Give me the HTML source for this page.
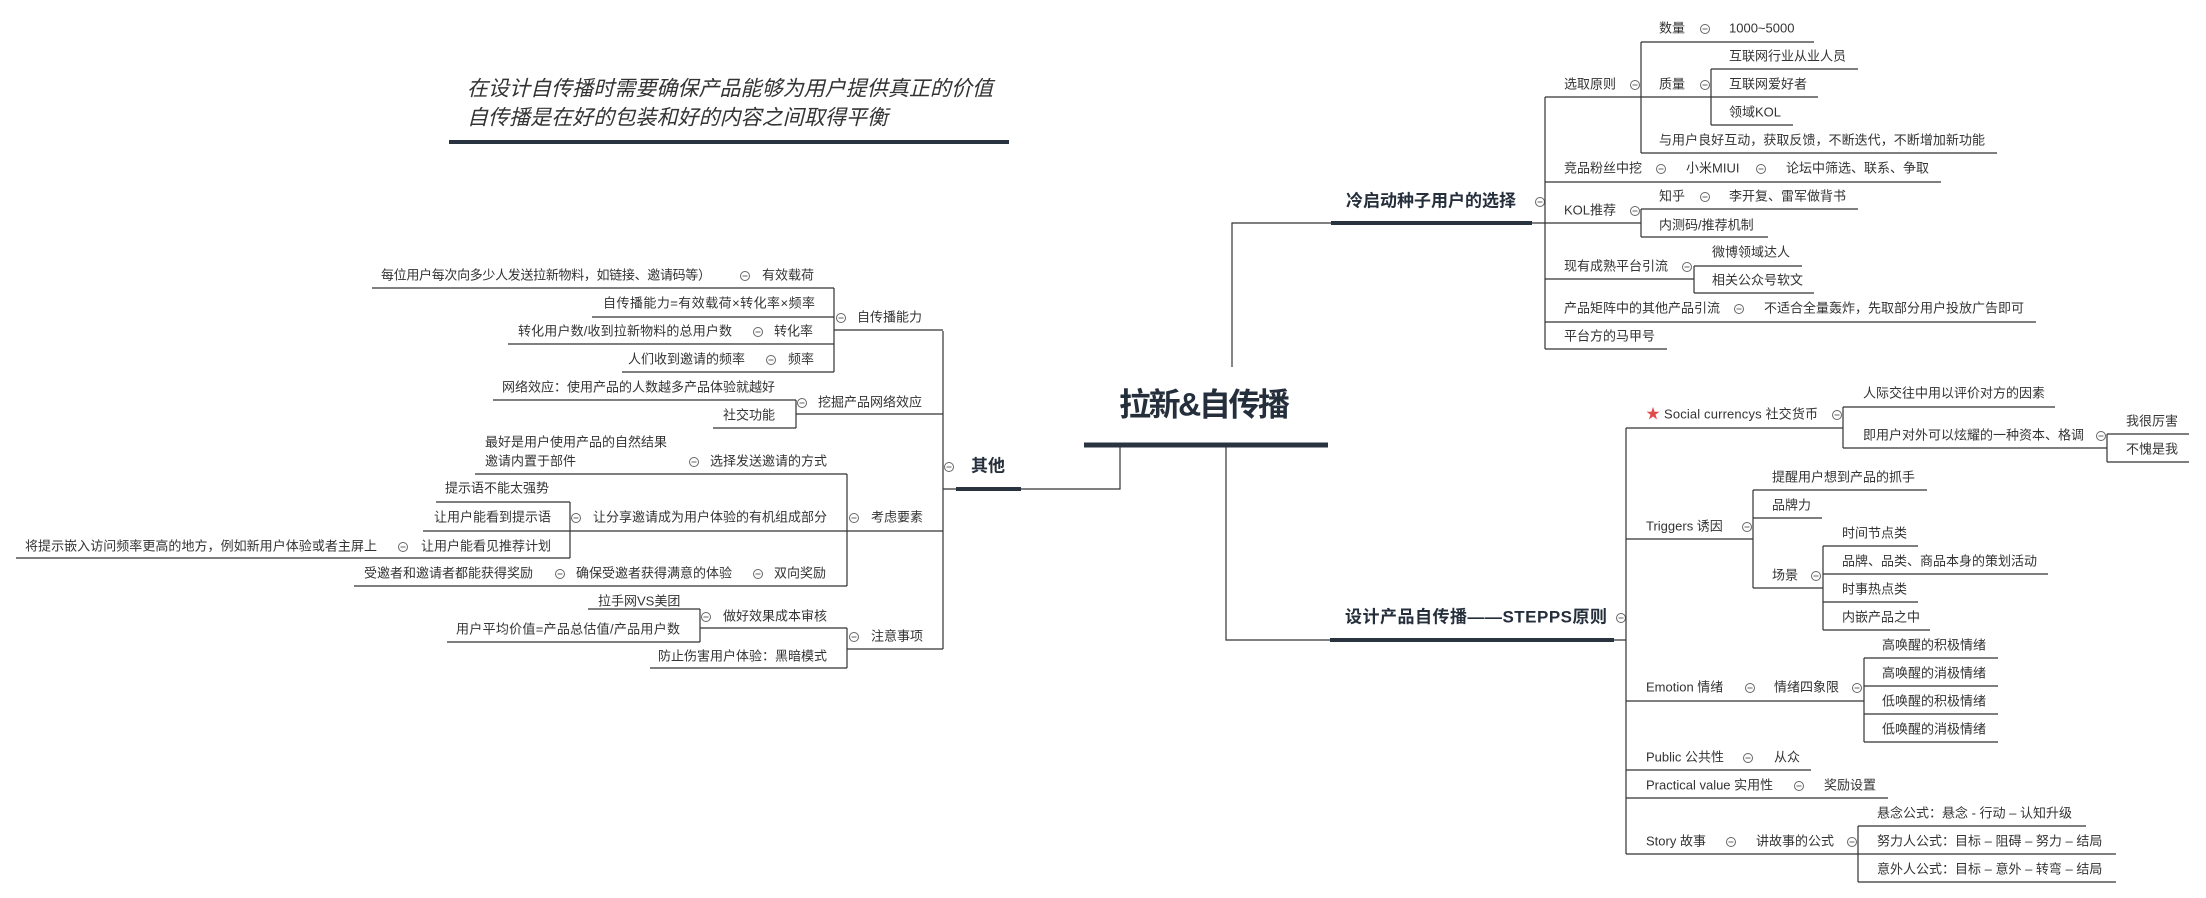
<!DOCTYPE html>
<html><head><meta charset="utf-8">
<style>
html,body{margin:0;padding:0;background:#fff;}
svg{display:block;}
text{font-family:"Liberation Sans","Noto Sans CJK SC",sans-serif;font-size:13px;fill:#333;dominant-baseline:middle;}
.b{font-weight:bold;fill:#252f3c;}
.l{stroke:#333;stroke-width:1.2;fill:none;}
.t{stroke:#2a3441;fill:none;}
</style></head><body>
<svg width="2206" height="898" viewBox="0 0 2206 898" xmlns="http://www.w3.org/2000/svg">
<defs>
<g id="c"><circle r="4.5" fill="#fff" stroke="#666" stroke-width="1"/><line x1="-2.5" x2="2.5" y1="0" y2="0" stroke="#666" stroke-width="1"/></g>
</defs>

<!-- title -->
<text x="467" y="90" style="font-size:21px;font-style:italic;fill:#333" textLength="526">在设计自传播时需要确保产品能够为用户提供真正的价值</text>
<text x="467" y="119" style="font-size:21px;font-style:italic;fill:#333" textLength="421">自传播是在好的包装和好的内容之间取得平衡</text>
<line class="t" x1="449" y1="142" x2="1009" y2="142" stroke-width="4"/>

<!-- root -->
<text x="1119" y="407" class="b" style="font-size:32px" textLength="171">拉新&amp;自传播</text>
<line class="t" x1="1084" y1="445" x2="1328" y2="445" stroke-width="5"/>

<!-- main connectors -->
<path class="l" d="M1120 447 V489 H1021"/>
<path class="l" d="M1232 367 V223 H1331"/>
<path class="l" d="M1226 447 V640 H1330"/>

<!-- 冷启动 -->
<text x="1346" y="202" class="b" style="font-size:17px" textLength="170">冷启动种子用户的选择</text>
<line class="t" x1="1331" y1="223" x2="1532" y2="223" stroke-width="4"/>
<use href="#c" x="1540" y="202"/>
<path class="l" d="M1532 223 H1545 M1545 97 V349"/>

<!-- 选取原则 -->
<text x="1564" y="85">选取原则</text><use href="#c" x="1635" y="85"/>
<path class="l" d="M1545 97 H1641 M1641 42 V153"/>
<text x="1659" y="29">数量</text><use href="#c" x="1705" y="29"/><text x="1729" y="29">1000~5000</text>
<path class="l" d="M1641 42 H1814"/>
<text x="1659" y="85">质量</text><use href="#c" x="1705" y="85"/>
<path class="l" d="M1641 97 H1711 M1711 69 V125"/>
<text x="1729" y="57">互联网行业从业人员</text><path class="l" d="M1711 69 H1858"/>
<text x="1729" y="85">互联网爱好者</text><path class="l" d="M1711 97 H1818"/>
<text x="1729" y="113">领域KOL</text><path class="l" d="M1711 125 H1793"/>
<text x="1659" y="141" textLength="326">与用户良好互动，获取反馈，不断迭代，不断增加新功能</text>
<path class="l" d="M1641 153 H1997"/>
<text x="1564" y="169">竞品粉丝中挖</text><use href="#c" x="1661" y="169"/><text x="1686" y="169">小米MIUI</text><use href="#c" x="1761" y="169"/><text x="1786" y="169">论坛中筛选、联系、争取</text>
<path class="l" d="M1545 182 H1941"/>
<text x="1564" y="211">KOL推荐</text><use href="#c" x="1635" y="211"/>
<path class="l" d="M1545 223 H1641 M1641 209 V237"/>
<text x="1659" y="197">知乎</text><use href="#c" x="1705" y="197"/><text x="1729" y="197">李开复、雷军做背书</text>
<path class="l" d="M1641 209 H1858"/>
<text x="1659" y="226">内测码/推荐机制</text><path class="l" d="M1641 237 H1768"/>
<text x="1564" y="267">现有成熟平台引流</text><use href="#c" x="1687" y="267"/>
<path class="l" d="M1545 279 H1694 M1694 266 V293"/>
<text x="1712" y="253">微博领域达人</text><path class="l" d="M1694 266 H1802"/>
<text x="1712" y="281">相关公众号软文</text><path class="l" d="M1694 293 H1814"/>
<text x="1564" y="309">产品矩阵中的其他产品引流</text><use href="#c" x="1739" y="309"/><text x="1764" y="309" textLength="260">不适合全量轰炸，先取部分用户投放广告即可</text>
<path class="l" d="M1545 322 H2036"/>
<text x="1564" y="337">平台方的马甲号</text><path class="l" d="M1545 349 H1667"/>

<!-- STEPPS -->
<text x="1345" y="618" class="b" style="font-size:17px" textLength="262">设计产品自传播——STEPPS原则</text>
<line class="t" x1="1330" y1="640" x2="1614" y2="640" stroke-width="4"/>
<use href="#c" x="1621" y="618"/>
<path class="l" d="M1614 640 H1626 M1626 428 V854"/>

<text x="1646" y="415" style="fill:#e34a4a;font-size:14px">★</text>
<text x="1664" y="415" textLength="154">Social currencys 社交货币</text><use href="#c" x="1837" y="415"/>
<path class="l" d="M1626 428 H1843 M1843 407 V448"/>
<text x="1863" y="394">人际交往中用以评价对方的因素</text><path class="l" d="M1843 407 H2055"/>
<text x="1863" y="436">即用户对外可以炫耀的一种资本、格调</text><use href="#c" x="2101" y="436"/>
<path class="l" d="M1843 448 H2107 M2107 434 V462"/>
<text x="2126" y="422">我很厉害</text><path class="l" d="M2107 434 H2189"/>
<text x="2126" y="450">不愧是我</text><path class="l" d="M2107 462 H2189"/>

<text x="1646" y="527">Triggers  诱因</text><use href="#c" x="1747" y="527"/>
<path class="l" d="M1626 539 H1753 M1753 490 V588"/>
<text x="1772" y="478">提醒用户想到产品的抓手</text><path class="l" d="M1753 490 H1927"/>
<text x="1772" y="506">品牌力</text><path class="l" d="M1753 518 H1822"/>
<text x="1772" y="576">场景</text><use href="#c" x="1816" y="576"/>
<path class="l" d="M1753 588 H1823 M1823 546 V630"/>
<text x="1842" y="534">时间节点类</text><path class="l" d="M1823 546 H1918"/>
<text x="1842" y="562">品牌、品类、商品本身的策划活动</text><path class="l" d="M1823 574 H2048"/>
<text x="1842" y="590">时事热点类</text><path class="l" d="M1823 602 H1918"/>
<text x="1842" y="618">内嵌产品之中</text><path class="l" d="M1823 630 H1930"/>

<text x="1646" y="688">Emotion  情绪</text><use href="#c" x="1750" y="688"/><text x="1774" y="688">情绪四象限</text><use href="#c" x="1857" y="688"/>
<path class="l" d="M1626 701 H1864 M1864 658 V742"/>
<text x="1882" y="646">高唤醒的积极情绪</text><path class="l" d="M1864 658 H1998"/>
<text x="1882" y="674">高唤醒的消极情绪</text><path class="l" d="M1864 686 H1998"/>
<text x="1882" y="702">低唤醒的积极情绪</text><path class="l" d="M1864 714 H1998"/>
<text x="1882" y="730">低唤醒的消极情绪</text><path class="l" d="M1864 742 H1998"/>

<text x="1646" y="758">Public  公共性</text><use href="#c" x="1748" y="758"/><text x="1774" y="758">从众</text>
<path class="l" d="M1626 770 H1811"/>
<text x="1646" y="786">Practical value  实用性</text><use href="#c" x="1799" y="786"/><text x="1824" y="786">奖励设置</text>
<path class="l" d="M1626 798 H1888"/>
<text x="1646" y="842">Story  故事</text><use href="#c" x="1731" y="842"/><text x="1756" y="842">讲故事的公式</text><use href="#c" x="1852" y="842"/>
<path class="l" d="M1626 854 H1858 M1858 826 V882"/>
<text x="1877" y="814">悬念公式：悬念 - 行动 – 认知升级</text><path class="l" d="M1858 826 H2086"/>
<text x="1877" y="842">努力人公式：目标 – 阻碍 – 努力 – 结局</text><path class="l" d="M1858 854 H2116"/>
<text x="1877" y="870">意外人公式：目标 – 意外 – 转弯 – 结局</text><path class="l" d="M1858 882 H2116"/>

<!-- 其他 -->
<text x="971" y="467" class="b" style="font-size:17px">其他</text>
<line class="t" x1="956" y1="489" x2="1021" y2="489" stroke-width="4"/>
<use href="#c" x="949" y="467"/>
<path class="l" d="M956 489 H943 M943 331 V649"/>

<text x="857" y="318">自传播能力</text><use href="#c" x="841" y="318"/>
<path class="l" d="M943 330 H834 M834 288 V372"/>
<text x="381" y="276" textLength="330">每位用户每次向多少人发送拉新物料，如链接、邀请码等）</text><use href="#c" x="745" y="276"/><text x="762" y="276">有效载荷</text>
<path class="l" d="M834 288 H372"/>
<text x="603" y="304" textLength="212">自传播能力=有效载荷×转化率×频率</text><path class="l" d="M834 317 H592"/>
<text x="518" y="332" textLength="214">转化用户数/收到拉新物料的总用户数</text><use href="#c" x="758" y="332"/><text x="774" y="332">转化率</text>
<path class="l" d="M834 344 H508"/>
<text x="628" y="360">人们收到邀请的频率</text><use href="#c" x="771" y="360"/><text x="788" y="360">频率</text>
<path class="l" d="M834 372 H622"/>

<text x="818" y="403">挖掘产品网络效应</text><use href="#c" x="802" y="403"/>
<path class="l" d="M943 414 H796 M796 400 V428"/>
<text x="502" y="388" textLength="273">网络效应：使用产品的人数越多产品体验就越好</text><path class="l" d="M796 400 H493"/>
<text x="723" y="416">社交功能</text><path class="l" d="M796 428 H713"/>

<text x="871" y="518">考虑要素</text><use href="#c" x="854" y="518"/>
<path class="l" d="M943 531 H847 M847 474 V586"/>
<text x="485" y="443">最好是用户使用产品的自然结果</text>
<text x="485" y="462">邀请内置于部件</text><use href="#c" x="694" y="462"/><text x="710" y="462">选择发送邀请的方式</text>
<path class="l" d="M847 474 H475"/>
<text x="593" y="518" textLength="234">让分享邀请成为用户体验的有机组成部分</text><use href="#c" x="576" y="518"/>
<path class="l" d="M847 531 H570 M570 502 V558"/>
<text x="445" y="489">提示语不能太强势</text><path class="l" d="M570 502 H436"/>
<text x="434" y="518">让用户能看到提示语</text><path class="l" d="M570 531 H423"/>
<text x="25" y="547" textLength="352">将提示嵌入访问频率更高的地方，例如新用户体验或者主屏上</text><use href="#c" x="403" y="547"/><text x="421" y="547">让用户能看见推荐计划</text>
<path class="l" d="M570 558 H16"/>
<text x="364" y="574">受邀者和邀请者都能获得奖励</text><use href="#c" x="560" y="574"/><text x="576" y="574">确保受邀者获得满意的体验</text><use href="#c" x="758" y="574"/><text x="774" y="574">双向奖励</text>
<path class="l" d="M847 586 H354"/>

<text x="871" y="637">注意事项</text><use href="#c" x="854" y="637"/>
<path class="l" d="M943 649 H847 M847 628 V668"/>
<text x="723" y="617">做好效果成本审核</text><use href="#c" x="706" y="617"/>
<path class="l" d="M847 628 H700 M700 609 V642"/>
<text x="598" y="602">拉手网VS美团</text><path class="l" d="M700 609 H588"/>
<text x="456" y="630" textLength="224">用户平均价值=产品总估值/产品用户数</text><path class="l" d="M700 642 H447"/>
<text x="658" y="657">防止伤害用户体验：黑暗模式</text><path class="l" d="M847 668 H650"/>
</svg>
</body></html>
